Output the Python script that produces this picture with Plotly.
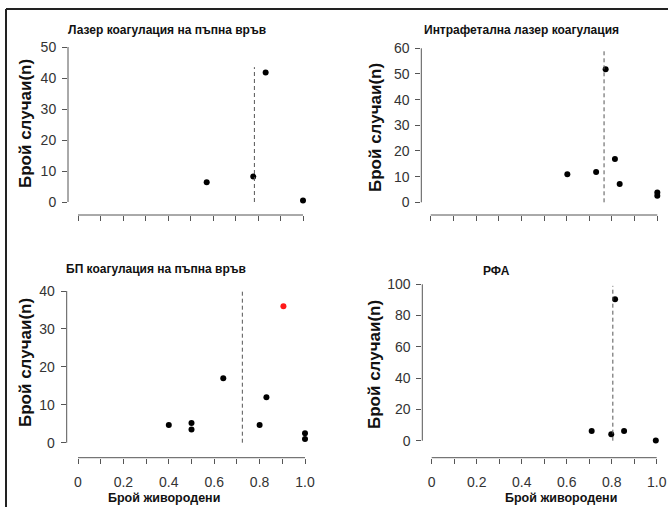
import plotly.graph_objects as go

W, H = 668, 507

# ---------------- data ----------------
titles = ["Лазер коагулация на пъпна връв", "Интрафетална лазер коагулация",
          "БП коагулация на пъпна връв", "РФА"]
y_title = "Брой случаи(n)"
x_title = "Брой живородени"

p1_x = [0.572, 0.779, 0.834, 1.0]
p1_y = [6.4, 8.2, 41.8, 0.5]
p2_x = [0.603, 0.730, 0.772, 0.813, 0.834, 1.0, 1.0]
p2_y = [10.9, 11.8, 51.8, 16.9, 7.1, 3.8, 2.6]
p3_x = [0.4, 0.5, 0.5, 0.64, 0.8, 0.83, 1.0, 1.0]
p3_y = [4.7, 5.2, 3.5, 17.0, 4.7, 12.0, 2.5, 1.0]
p3_red_x = [0.905]
p3_red_y = [36.0]
p4_x = [0.711, 0.798, 0.815, 0.855, 0.996]
p4_y = [6.2, 4.1, 90.5, 6.2, 0.2]

vline_x = [0.784, 0.765, 0.724, 0.805]
vline_top = [43.5, 59.0, 40.3, 99.0]

y_ticks = [[0, 10, 20, 30, 40, 50], [0, 10, 20, 30, 40, 50, 60],
           [0, 10, 20, 30, 40], [0, 20, 40, 60, 80, 100]]
x_ticks = [0, 0.1, 0.2, 0.3, 0.4, 0.5, 0.6, 0.7, 0.8, 0.9, 1.0]
x_ticktext = ["0", "", "0.2", "", "0.4", "", "0.6", "", "0.8", "", "1.0"]

# ---------------- layout geometry (pixels) ----------------
# (left edge, x=0 px, x=1 px, right edge, bottom edge, y=0 px, y=max px, top edge)
geo = [
    (68.0, 78.0, 303.0, 312.0, 215.0, 202.0, 47.0, 40.0),
    (421.3, 430.7, 657.3, 666.0, 215.0, 202.3, 48.3, 42.0),
    (66.7, 78.0, 305.0, 314.0, 457.7, 442.7, 291.0, 284.0),
    (422.3, 431.7, 656.7, 666.0, 457.7, 440.7, 284.3, 278.0),
]
title_pos = [(167, 30), (521, 30), (156, 269), (496, 271)]
ytitle_pos = [(25, 124), (376, 128), (25, 363), (374, 365)]
xtitle_pos = [None, None, (164, 498), (561, 498)]

FONT = "Liberation Sans, Arial, sans-serif"
AXC = "#555555"

series = [(p1_x, p1_y), (p2_x, p2_y), (p3_x, p3_y), (p4_x, p4_y)]

fig = go.Figure()
layout = dict(width=W, height=H, margin=dict(l=0, r=0, t=0, b=0, autoexpand=False),
              template="none",
              paper_bgcolor="white", plot_bgcolor="white", showlegend=False,
              font=dict(family=FONT, color="#222222"))
shapes = []
annotations = []

for i in range(4):
    n = "" if i == 0 else str(i + 1)
    xa, ya = "x" + n, "y" + n
    L, a0, a1, R, B, b0, bt, T = geo[i]
    ymax = y_ticks[i][-1]
    xs = a1 - a0
    ys = (b0 - bt) / ymax
    xr = [(L - a0) / xs, (R - a0) / xs]
    yr = [-(B - b0) / ys, (b0 - T) / ys]
    px, py = series[i]
    fig.add_trace(go.Scatter(x=px, y=py, mode="markers", xaxis=xa, yaxis=ya, cliponaxis=False,
                             marker=dict(color="black", size=6)))
    if i == 2:
        fig.add_trace(go.Scatter(x=p3_red_x, y=p3_red_y, mode="markers", xaxis=xa, yaxis=ya,
                                 marker=dict(color="#ff1a1a", size=6)))
    fig.add_trace(go.Scatter(x=[vline_x[i], vline_x[i]], y=[0, vline_top[i]], mode="lines",
                             xaxis=xa, yaxis=ya,
                             line=dict(color="#555555", width=1, dash="4px,3px")))
    show_x_labels = i >= 2
    layout["xaxis" + n] = dict(domain=[L / W, R / W], range=xr, anchor=ya, automargin=False,
                               showgrid=False, zeroline=False, showline=False,
                               tickmode="array", tickvals=x_ticks, ticktext=x_ticktext,
                               showticklabels=show_x_labels,
                               ticks="outside", ticklen=5, tickcolor=AXC, tickwidth=1,
                               ticklabelstandoff=6,
                               tickfont=dict(size=14, color="#333333"))
    layout["yaxis" + n] = dict(domain=[1 - B / H, 1 - T / H], range=yr, anchor=xa, automargin=False,
                               showgrid=False, zeroline=False, showline=False,
                               tickmode="array", tickvals=y_ticks[i],
                               ticks="outside", ticklen=5, tickcolor=AXC, tickwidth=1,
                               ticklabelstandoff=3,
                               tickfont=dict(size=14, color="#333333"))
    # axis lines spanning first to last tick (R style)
    shapes.append(dict(type="line", xref=xa, yref=ya + " domain", x0=0, x1=1, y0=0, y1=0,
                       line=dict(color=AXC, width=1)))
    shapes.append(dict(type="line", xref=xa + " domain", yref=ya, x0=0, x1=0, y0=0, y1=ymax,
                       line=dict(color=AXC, width=1)))
    tx, ty = title_pos[i]
    annotations.append(dict(text="<b>" + titles[i] + "</b>", x=tx / W, y=1 - ty / H,
                            xref="paper", yref="paper", showarrow=False,
                            xanchor="center", yanchor="middle",
                            font=dict(size=12, family=FONT, color="#111111")))
    yx, yy = ytitle_pos[i]
    annotations.append(dict(text="<b>" + y_title + "</b>", x=yx / W, y=1 - yy / H,
                            xref="paper", yref="paper", showarrow=False, textangle=-90,
                            xanchor="center", yanchor="middle",
                            font=dict(size=17, family=FONT, color="#111111")))
    if xtitle_pos[i] is not None:
        xx, xy = xtitle_pos[i]
        annotations.append(dict(text="<b>" + x_title + "</b>", x=xx / W, y=1 - xy / H,
                                xref="paper", yref="paper", showarrow=False,
                                xanchor="center", yanchor="middle",
                                font=dict(size=12.5, family=FONT, color="#111111")))

# outer frame (top and left edges visible; the rest runs off the picture)
shapes.append(dict(type="line", xref="paper", yref="paper", x0=6 / W, x1=1.0,
                   y0=1 - 9 / H, y1=1 - 9 / H, line=dict(color="#222222", width=2)))
shapes.append(dict(type="line", xref="paper", yref="paper", x0=6 / W, x1=6 / W,
                   y0=0.0, y1=1 - 9 / H, line=dict(color="#222222", width=2)))

layout["shapes"] = shapes
layout["annotations"] = annotations
fig.update_layout(**layout)
fig.write_html("out.html", config={"displayModeBar": False},
               post_script="document.body.style.margin='0';document.body.style.overflow='hidden';")
